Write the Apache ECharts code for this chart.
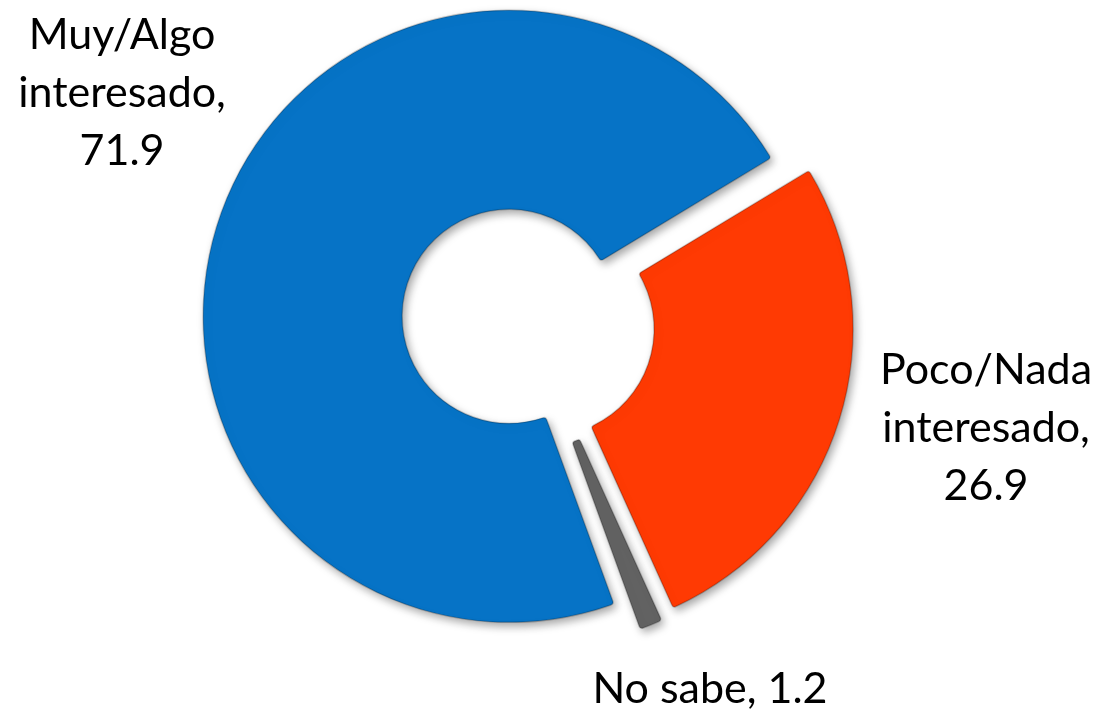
<!DOCTYPE html>
<html>
<head>
<meta charset="utf-8">
<script src="https://cdn.jsdelivr.net/npm/echarts@6/dist/echarts.min.js"></script>
<style>
  html, body { margin: 0; padding: 0; background: #fff; }
  #chart { width: 1098px; height: 711px; }
</style>
</head>
<body>
<div id="chart"></div>
<script>
  // data
  const categories = ['Muy/Algo interesado', 'Poco/Nada interesado', 'No sabe']
  const values = [71.9, 26.9, 1.2]
  const colors = ['#0673c6', '#ff3a03', '#626262']

  // where each label sits (text anchors, not marks)
  const labelSpots = [
    { x: 122, y: 93 },
    { x: 986, y: 428 },
    { x: 710, y: 689 },
  ]

  const chart = echarts.init(document.getElementById('chart'))

  const pieBase = {
    type: 'pie',
    center: [528, 323],
    radius: [107, 306],
    startAngle: 290,
    clockwise: true,
    avoidLabelOverlap: false,
    emphasis: { disabled: true },
    labelLine: { show: false },
  }

  const options = {
    animation: false,
    backgroundColor: '#fff',
    series: [
      // exploded slices
      {
        ...pieBase,
        selectedMode: 'multiple',
        selectedOffset: 20,
        itemStyle: {
          borderColor: 'rgba(0,0,0,0.22)',
          borderWidth: 1.5,
          borderRadius: 3,
          shadowBlur: 8,
          shadowOffsetX: 3,
          shadowOffsetY: 4,
          shadowColor: 'rgba(0,0,0,0.35)',
        },
        label: { show: false },
        data: categories.map((name, i) => ({
          name,
          value: values[i],
          selected: true,
          itemStyle: { color: colors[i] },
        })),
      },
      // labels only (not selected, so labelLayout holds)
      {
        ...pieBase,
        silent: true,
        selectedMode: false,
        itemStyle: { color: 'rgba(0,0,0,0)' },
        label: {
          show: true,
          color: '#000',
          fontFamily: 'Lato',
          fontSize: 43,
          lineHeight: 58,
          align: 'center',
          formatter: p => p.dataIndex < 2
            ? `${p.name.replace(' ', '\n')},\n${p.value}`
            : `${p.name}, ${p.value}`,
        },
        labelLayout: p => ({ ...labelSpots[p.dataIndex], align: 'center', verticalAlign: 'middle' }),
        data: categories.map((name, i) => ({ name, value: values[i] })),
      },
    ],
  }
  chart.setOption(options)
</script>
</body>
</html>
